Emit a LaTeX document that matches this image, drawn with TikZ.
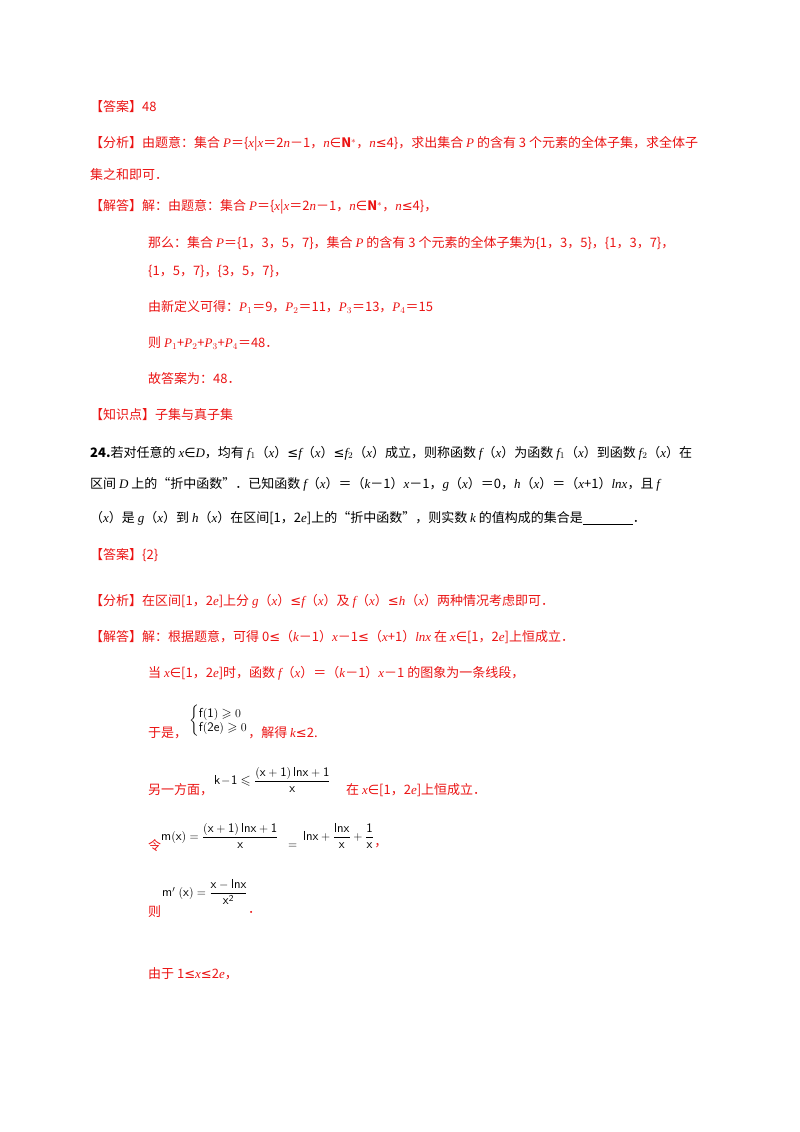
\documentclass[tikz,border=0pt]{standalone}
\usepackage{amsmath,amssymb}
\usepackage{fontspec}
\setmainfont{Noto Sans CJK SC}
\newfontfamily\tmi{Liberation Serif}[ItalicFont={Liberation Serif Italic}]
\newfontfamily\djvf{DejaVu Sans}
\newcommand{\vi}[1]{{\tmi\itshape #1}}
\newcommand{\lesym}{{\djvf ≤}}
\newcommand{\insym}{{\djvf ∈}}
\definecolor{ans}{RGB}{235,20,20}
\begin{document}
\begin{tikzpicture}[x=1pt,y=-1pt,
  t/.style={anchor=west,inner sep=0pt,font=\fontsize{13}{16}\selectfont,text=ans},
  b/.style={t,text=black}]
\useasboundingbox[fill=white] (0,0) rectangle (800,1132);
\node[t] (a1) at (90,107) {【答案】48};
\node[t] (a2) at (90,144) {【分析】由题意：集合 \vi{P}＝\{\vi{x}|\vi{x}＝2\vi{n}－1，\vi{n}\insym$\mathbf{N}^*$，\vi{n}\lesym4\}，求出集合 \vi{P} 的含有 3 个元素的全体子集，求全体子};
\node[t] (a3) at (90,175) {集之和即可．};
\node[t] (a4) at (90,207) {【解答】解：由题意：集合 \vi{P}＝\{\vi{x}|\vi{x}＝2\vi{n}－1，\vi{n}\insym$\mathbf{N}^*$，\vi{n}\lesym4\}，};
\node[t] (a5) at (148,243) {那么：集合 \vi{P}＝\{1，3，5，7\}，集合 \vi{P} 的含有 3 个元素的全体子集为\{1，3，5\}，\{1，3，7\}，};
\node[t] (a6) at (148,271) {\{1，5，7\}，\{3，5，7\}，};
\node[t] (a7) at (148,307) {由新定义可得：\vi{P}$_1$＝9，\vi{P}$_2$＝11，\vi{P}$_3$＝13，\vi{P}$_4$＝15};
\node[t] (a8) at (148,343) {则 \vi{P}$_1$+\vi{P}$_2$+\vi{P}$_3$+\vi{P}$_4$＝48．};
\node[t] (a9) at (148,379) {故答案为：48．};
\node[t] (a10) at (90,415) {【知识点】子集与真子集};
\node[b] (q1) at (90,453) {\textbf{24.}若对任意的 \vi{x}\insym\vi{D}，均有 \vi{f}$_1$（\vi{x}）\lesym\vi{f}（\vi{x}）\lesym\vi{f}$_2$（\vi{x}）成立，则称函数 \vi{f}（\vi{x}）为函数 \vi{f}$_1$（\vi{x}）到函数 \vi{f}$_2$（\vi{x}）在};
\node[b] (q2) at (90,484) {区间 \vi{D} 上的“折中函数”．已知函数 \vi{f}（\vi{x}）＝（\vi{k}－1）\vi{x}－1，\vi{g}（\vi{x}）＝0，\vi{h}（\vi{x}）＝（\vi{x}+1）\vi{lnx}，且 \vi{f}};
\node[b] (q3) at (90,518) {（\vi{x}）是 \vi{g}（\vi{x}）到 \vi{h}（\vi{x}）在区间[1，2\vi{e}]上的“折中函数”，则实数 \vi{k} 的值构成的集合是\underline{\hspace{50pt}}．};
\node[t] (b1) at (90,555) {【答案】\{2\}};
\node[t] (b2) at (90,601) {【分析】在区间[1，2\vi{e}]上分 \vi{g}（\vi{x}）\lesym\vi{f}（\vi{x}）及 \vi{f}（\vi{x}）\lesym\vi{h}（\vi{x}）两种情况考虑即可．};
\node[t] (b3) at (90,637) {【解答】解：根据题意，可得 0\lesym（\vi{k}－1）\vi{x}－1\lesym（\vi{x}+1）\vi{lnx} 在 \vi{x}\insym[1，2\vi{e}]上恒成立．};
\node[t] (b4) at (148,673) {当 \vi{x}\insym[1，2\vi{e}]时，函数 \vi{f}（\vi{x}）＝（\vi{k}－1）\vi{x}－1 的图象为一条线段，};
\node[t] (b5) at (148,733) {于是，};
\node[b,font=\fontsize{13}{15}\selectfont] (c1) at (189,721) {$\left\{\begin{array}{@{}l@{}}\mathsf{f(1)}\geqslant0\\[-1pt]\mathsf{f(2e)}\geqslant0\end{array}\right.$};
\node[t] (b6) at (c1.east |- b5) {，解得 \vi{k}\lesym2.};
\node[t] (b7) at (148,790) {另一方面，};
\node[b] (f1) at (214,780) {$\mathsf{k\!-\!1}\leqslant\dfrac{\mathsf{(x+1)\,lnx+1}}{\mathsf{x}}$};
\node[t] (b8) at (346,790) {在 \vi{x}\insym[1，2\vi{e}]上恒成立．};
\node[t] (b9) at (148,846) {令};
\node[b] (f2) at (161,836) {$\mathsf{m(x)}=\dfrac{\mathsf{(x+1)\,lnx+1}}{\mathsf{x}}$};
\node[b] (f3) at (288,846) {$=$};
\node[b] (f4) at (303,836) {$\mathsf{lnx}+\dfrac{\mathsf{lnx}}{\mathsf{x}}+\dfrac{\mathsf{1}}{\mathsf{x}}$};
\node[t] (b10) at (f4.east |- b9) {，};
\node[t] (b11) at (148,912) {则};
\node[b] (f5) at (162,892) {$\mathsf{m}'\;\mathsf{(x)}=\dfrac{\mathsf{x-lnx}}{\mathsf{x^2}}$};
\node[t] (b12) at (f5.east |- b11) {．};
\node[t] (b13) at (148,974) {由于 1\lesym\vi{x}\lesym2\vi{e}，};
\end{tikzpicture}
\end{document}
